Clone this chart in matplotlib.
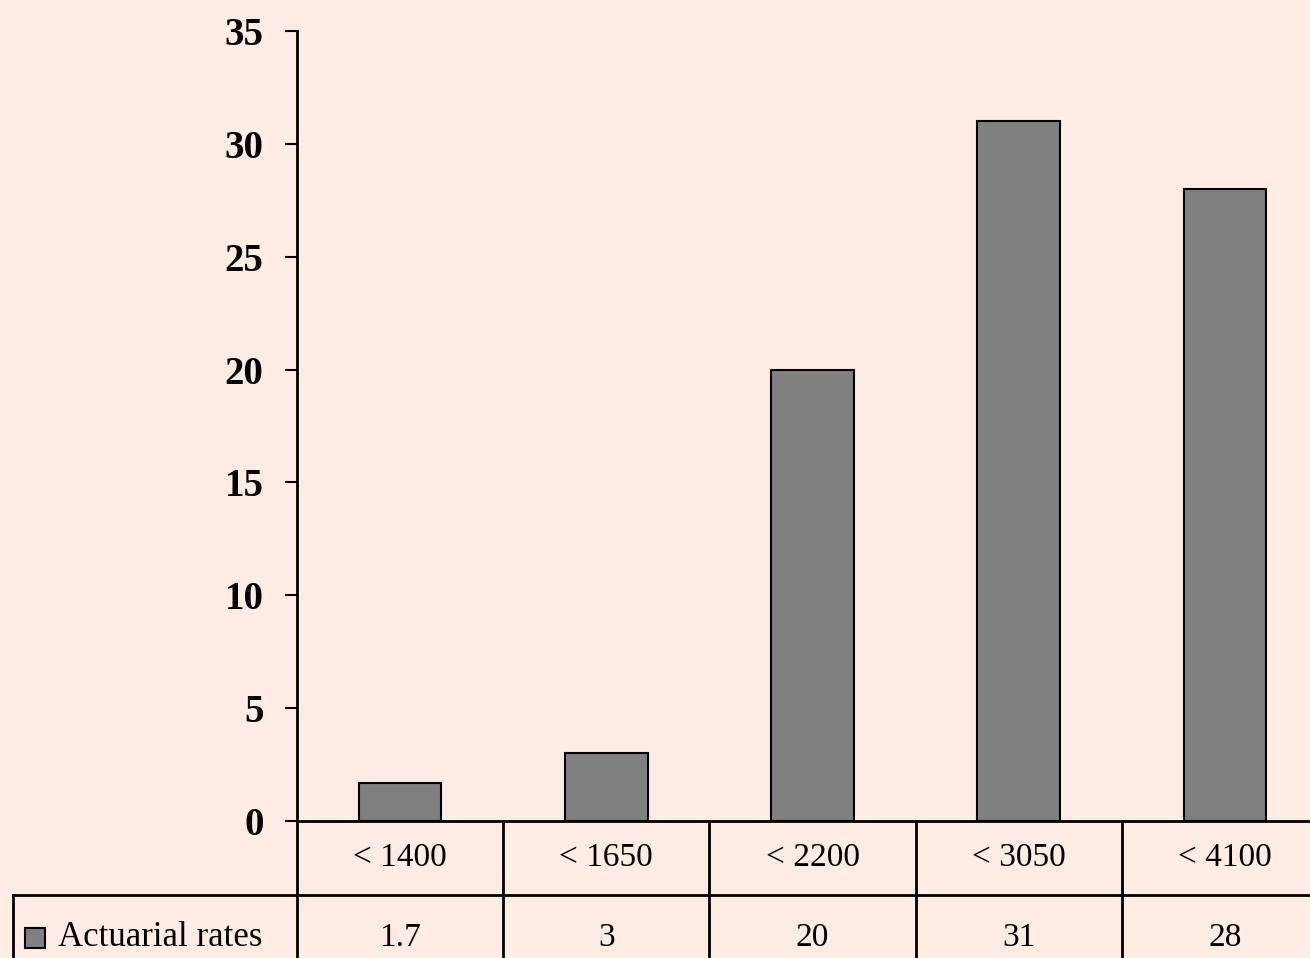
import matplotlib
matplotlib.use('Agg')
import matplotlib.pyplot as plt
from matplotlib.patches import Rectangle
from matplotlib.transforms import blended_transform_factory

categories = ['< 1400', '< 1650', '< 2200', '< 3050', '< 4100']
values = [1.7, 3, 20, 31, 28]
value_labels = ['1.7', '3', '20', '31', '28']
series_name = 'Actuarial rates'
yticks = [0, 5, 10, 15, 20, 25, 30, 35]

BG = '#FFECE2'
BAR = '#808080'
W, H = 1310, 958

plt.rcParams['font.family'] = ['Liberation Serif', 'DejaVu Serif']

fig = plt.figure(figsize=(W / 100, H / 100), dpi=100, facecolor=BG)
# axes spans x 297..1328 px, y 31..821 px (top-down)
ax = fig.add_axes([297 / W, (H - 821) / H, 1031 / W, 790 / H])
ax.set_facecolor(BG)

x = list(range(len(categories)))
ax.bar(x, values, width=0.4, color=BAR, edgecolor='black', linewidth=1.5, zorder=3)

ax.set_xlim(-0.5, len(categories) - 0.5)
ax.set_ylim(0, 35)
ax.set_yticks(yticks)
ax.set_yticklabels([str(t) for t in yticks], fontsize=28, fontweight='bold')
ax.tick_params(axis='y', length=9, width=1.5, pad=15, direction='out')
ax.set_xticks([])
for s in ['top', 'right']:
    ax.spines[s].set_visible(False)
ax.spines['left'].set_linewidth(2)
ax.spines['bottom'].set_linewidth(2)

# data table under the axes
tr = blended_transform_factory(ax.transData, ax.transAxes)
row_h = 74 / 790
left_edge = -0.5 - 284 / 206
lkw = dict(color='black', linewidth=2, clip_on=False, transform=tr)

for b in [i - 0.5 for i in range(len(categories) + 1)]:
    ax.plot([b, b], [0, -2.2 * row_h], **lkw)
ax.plot([left_edge, len(categories)], [-row_h, -row_h], **lkw)
ax.plot([left_edge, left_edge], [-row_h, -2.2 * row_h], **lkw)

for i, (c, v) in enumerate(zip(categories, value_labels)):
    ax.text(i, -row_h / 2, c, transform=tr, ha='center', va='center', fontsize=24)
    ax.text(i, -117 / 790, v, transform=tr, ha='center', va='center', fontsize=24)

# legend key in the label cell
fig.patches.append(Rectangle((25 / W, (H - 948) / H), 20 / W, 20 / H,
                             transform=fig.transFigure, facecolor=BAR,
                             edgecolor='black', linewidth=1.5))
fig.text(58 / W, (H - 938) / H, series_name, ha='left', va='center', fontsize=25)

fig.savefig('out.png', dpi=100, facecolor=BG)
